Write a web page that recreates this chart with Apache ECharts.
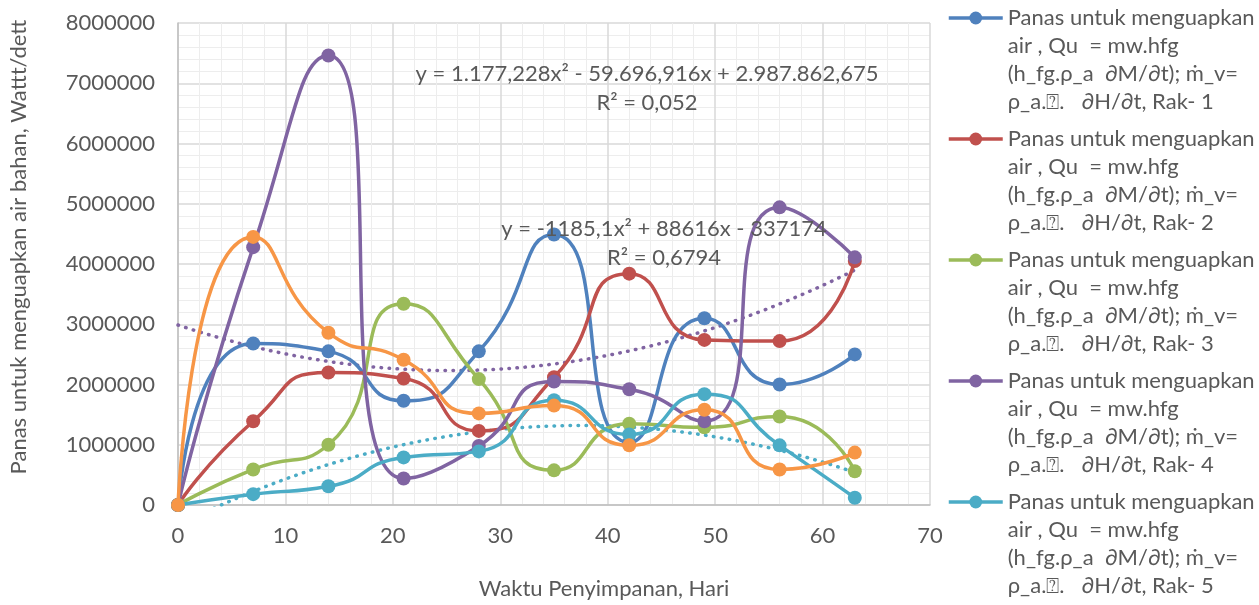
<!DOCTYPE html>
<html>
<head>
<meta charset="utf-8">
<title>Panas untuk menguapkan air bahan</title>
<script src="https://cdn.jsdelivr.net/npm/echarts@6/dist/echarts.min.js"></script>
<style>
  html, body { margin: 0; padding: 0; background: #fff; }
  #container { width: 1259px; height: 605px; }
</style>
</head>
<body>
<div id="container"></div>
<script>
// hari penyimpanan (sumbu x)
var days = [0, 7, 14, 21, 28, 35, 42, 49, 56, 63];

// panas untuk menguapkan air per rak (Watt/det)
var rak1 = [0, 2680000, 2550000, 1730000, 2550000, 4490000, 1040000, 3100000, 2000000, 2500000];
var rak2 = [0, 1390000, 2200000, 2100000, 1230000, 2120000, 3840000, 2740000, 2720000, 4050000];
var rak3 = [0, 590000, 1000000, 3340000, 2090000, 575000, 1350000, 1290000, 1470000, 560000];
var rak4 = [0, 4280000, 7460000, 440000, 980000, 2050000, 1920000, 1390000, 4940000, 4110000];
var rak5 = [0, 180000, 310000, 790000, 890000, 1740000, 1170000, 1840000, 990000, 120000];
var rak6 = [0, 4450000, 2860000, 2410000, 1520000, 1650000, 990000, 1580000, 590000, 870000];

// koefisien trendline polinomial (dibaca dari label grafik)
var trendRak4 = [1177.228, -59696.916, 2987862.675];
var trendRak5 = [-1185.1, 88616, -337174];

var labelRak = "Panas untuk menguapkan\nair , Qu  = mw.hfg\n(h_fg.\u03c1_a  \u2202M/\u2202t); \u1e41_v=\n\u03c1_a.\u2370.   \u2202H/\u2202t, Rak- ";
var names = [1, 2, 3, 4, 5].map(function (i) { return labelRak + i; });
var colors = ['#4F81BD', '#C0504D', '#9BBB59', '#8064A2', '#4BACC6', '#F79646'];

var font = "Lato, 'Open Sans', 'DejaVu Sans', sans-serif";
var textColor = '#595959';

function pairs(ys) {
  return days.map(function (d, i) { return [d, ys[i]]; });
}
function trend(c) {
  var out = [];
  for (var x = 0; x <= days[days.length - 1]; x += 0.5) {
    out.push([x, c[0] * x * x + c[1] * x + c[2]]);
  }
  return out;
}

var myChart = echarts.init(document.getElementById('container'));

var dataSeries = [rak1, rak2, rak3, rak4, rak5, rak6].map(function (ys, i) {
  return {
    name: i < 5 ? names[i] : 'Rak 6',
    type: 'line',
    data: pairs(ys),
    smooth: 0.6,
    symbol: 'circle',
    symbolSize: 14,
    showAllSymbol: true,
    lineStyle: { color: colors[i], width: 3.5 },
    itemStyle: { color: colors[i] },
    z: 3 + i
  };
});

var trendSeries = [
  { c: trendRak4, color: colors[3] },
  { c: trendRak5, color: colors[4] }
].map(function (t) {
  return {
    name: 'trend',
    type: 'line',
    data: trend(t.c),
    showSymbol: false,
    clip: true,
    lineStyle: { color: t.color, width: 3.5, type: [0.5, 7.5], cap: 'round' },
    z: 2,
    silent: true
  };
});

var option = {
  animation: false,
  textStyle: { fontFamily: font },
  grid: { left: 178, top: 23, width: 752, height: 498, containLabel: false },
  legend: {
    data: names,
    orient: 'vertical',
    left: 947,
    top: -80,
    padding: 0,
    itemGap: -75,
    itemWidth: 54,
    itemHeight: 16,
    lineStyle: { width: 3.5 },
    formatter: function (name) { return '\n\n\n' + name; },
    textStyle: { fontFamily: font, fontSize: 22, lineHeight: 28, color: textColor }
  },
  xAxis: {
    type: 'value',
    min: 0,
    max: 70,
    interval: 10,
    name: 'Waktu Penyimpanan, Hari',
    nameLocation: 'middle',
    nameGap: 73,
    nameTextStyle: { fontFamily: font, fontSize: 22, color: textColor, padding: [0, 0, 0, 100] },
    axisLine: { show: true, onZero: false, lineStyle: { color: '#BFBFBF', width: 1.5 } },
    axisTick: { show: false },
    axisLabel: { fontFamily: font, fontSize: 22, color: textColor, margin: 20 },
    splitLine: { show: true, lineStyle: { color: '#D9D9D9', width: 1.5 } },
    minorSplitLine: { show: true, lineStyle: { color: '#EDEDED', width: 1 } },
    minorTick: { show: false, splitNumber: 5 }
  },
  yAxis: {
    type: 'value',
    min: 0,
    max: 8000000,
    interval: 1000000,
    name: 'Panas untuk menguapkan air bahan, Wattt/dett',
    nameLocation: 'middle',
    nameGap: 148,
    nameTextStyle: { fontFamily: font, fontSize: 22, color: textColor, padding: [0, 0, 0, 34] },
    axisLine: { show: true, lineStyle: { color: '#BFBFBF', width: 1.5 } },
    axisTick: { show: false },
    axisLabel: {
      fontFamily: font, fontSize: 22, color: textColor, margin: 23,
      formatter: function (value) { return String(value); }
    },
    splitLine: { show: true, lineStyle: { color: '#D9D9D9', width: 1.5 } },
    minorSplitLine: { show: true, lineStyle: { color: '#EDEDED', width: 1 } },
    minorTick: { show: false, splitNumber: 5 }
  },
  graphic: [
    {
      type: 'text',
      style: {
        x: 647, y: 88,
        text: 'y = 1.177,228x\u00b2 - 59.696,916x + 2.987.862,675\nR\u00b2 = 0,052',
        align: 'center', verticalAlign: 'middle',
        font: '22px ' + font, lineHeight: 29, fill: textColor
      },
      z: 100
    },
    {
      type: 'text',
      style: {
        x: 664, y: 243,
        text: 'y = -1185,1x\u00b2 + 88616x - 337174\nR\u00b2 = 0,6794',
        align: 'center', verticalAlign: 'middle',
        font: '22px ' + font, lineHeight: 29, fill: textColor
      },
      z: 100
    }
  ],
  series: trendSeries.concat(dataSeries)
};

myChart.setOption(option);
</script>
</body>
</html>
